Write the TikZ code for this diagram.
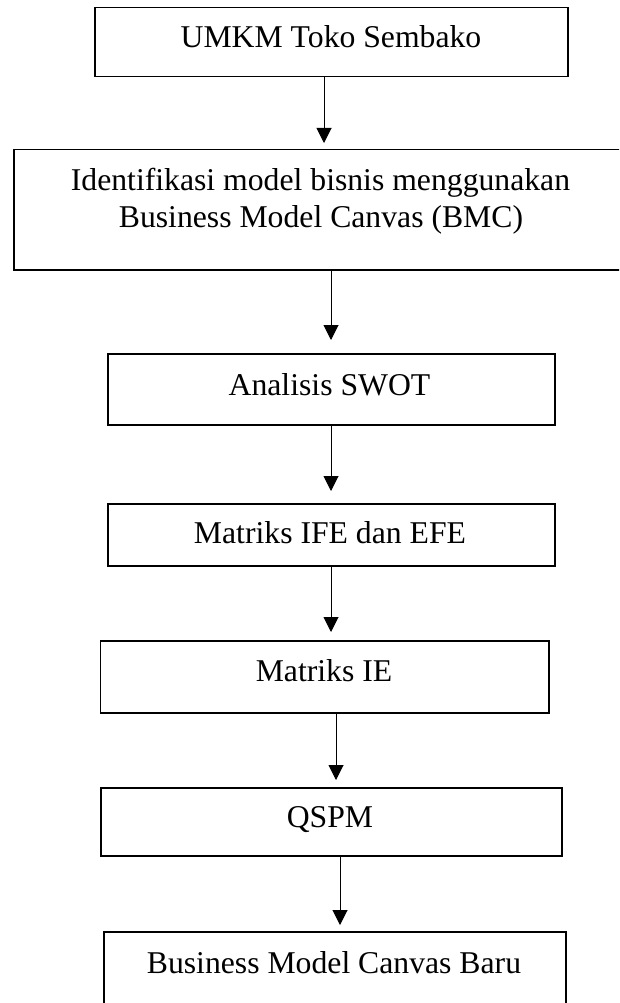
\documentclass[tikz,border=0pt]{standalone}
\usepackage{fontspec}
\setmainfont{Liberation Serif}
\usetikzlibrary{arrows.meta}
\tikzset{
  boxnode/.style={draw, line width=1.5pt, inner sep=0pt, anchor=north west},
  lbl/.style={inner sep=0pt, anchor=base, font=\fontsize{31.7}{37}\selectfont},
  arr/.style={-{Triangle[width=15pt,length=15pt]}, line width=1pt}
}
\begin{document}
\begin{tikzpicture}[x=1pt,y=-1pt]
\useasboundingbox (0,0) rectangle (619,1003);
\clip (0,0) rectangle (619,1003);
% boxes
\node[boxnode, minimum width=473pt, minimum height=69pt] (b1) at (94,7) {};
\node[boxnode, minimum width=620pt, minimum height=120pt] (b2) at (13,149) {};
\node[boxnode, minimum width=447pt, minimum height=71pt] (b3) at (107,353) {};
\node[boxnode, minimum width=447pt, minimum height=62pt] (b4) at (107,503) {};
\node[boxnode, minimum width=448.5pt, minimum height=72pt] (b5) at (99.5,640) {};
\node[boxnode, minimum width=461pt, minimum height=68pt] (b6) at (100,787) {};
\node[boxnode, minimum width=462pt, minimum height=90pt] (b7) at (103,931) {};
% texts
\node[lbl] (t1) at (331,48) {UMKM Toko Sembako};
\node[lbl] (t2a) at (320.5,190) {Identifikasi model bisnis menggunakan};
\node[lbl] (t2b) at (321,227) {Business Model Canvas (BMC)};
\node[lbl] (t3) at (329.5,395) {Analisis SWOT};
\node[lbl] (t4) at (330,543) {Matriks IFE dan EFE};
\node[lbl] (t5) at (324,681) {Matriks IE};
\node[lbl] (t6) at (330,827) {QSPM};
\node[lbl] (t7) at (334,973) {Business Model Canvas Baru};
% arrow x positions
\coordinate (c1) at (324,0);
\coordinate (c2) at (331,0);
\coordinate (c3) at (331,0);
\coordinate (c4) at (331,0);
\coordinate (c5) at (336,0);
\coordinate (c6) at (340,0);
% connectors
\draw[arr, shorten >=6pt] (b1.south -| c1) -- (b2.north -| c1);
\draw[arr, shorten >=13pt] (b2.south -| c2) -- (b3.north -| c2);
\draw[arr, shorten >=12pt] (b3.south -| c3) -- (b4.north -| c3);
\draw[arr, shorten >=8pt] (b4.south -| c4) -- (b5.north -| c4);
\draw[arr, shorten >=7pt] (b5.south -| c5) -- (b6.north -| c5);
\draw[arr, shorten >=6pt] (b6.south -| c6) -- (b7.north -| c6);
\end{tikzpicture}
\end{document}
